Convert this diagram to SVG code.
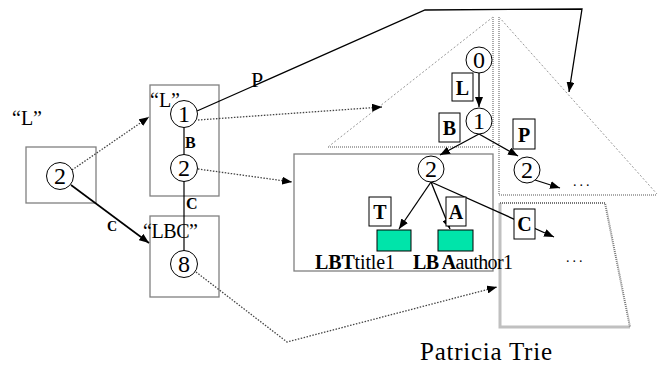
<svg xmlns="http://www.w3.org/2000/svg" width="663" height="365" viewBox="0 0 663 365">
<style>
text{font-family:"Liberation Serif","Times New Roman",serif;fill:#000}
.num{font-size:24px;text-anchor:middle}
.lab{font-size:20px;font-weight:bold;text-anchor:middle}
.q{font-size:20px}
.box{fill:none;stroke:#808080;stroke-width:1.3}
.nd{fill:#fff;stroke:#000;stroke-width:1}
.lbox{fill:#fff;stroke:#000;stroke-width:1}
.leaf{fill:#00e4aa;stroke:#000;stroke-width:1}
.solid{fill:none;stroke:#000;stroke-width:1.3;marker-end:url(#ah)}
.dot{fill:none;stroke:#444;stroke-width:1.3;stroke-dasharray:1.5 1.5;marker-end:url(#ah)}
.tri{fill:none;stroke:#999;stroke-width:1;stroke-dasharray:2 2}
.tri2{fill:none;stroke:#aaa;stroke-width:2;stroke-dasharray:1 1}
.gr{fill:none;stroke:#c0c0c0;stroke-width:3}
.gd{fill:none;stroke:#777;stroke-width:2;stroke-dasharray:1 1}
.ell{font-size:14px;letter-spacing:3px}
</style>
<defs>
<marker id="ah" viewBox="0 0 10 8" refX="10" refY="4" markerWidth="10" markerHeight="8" markerUnits="userSpaceOnUse" orient="auto">
<path d="M0,0 L10,4 L0,8 z" fill="#000"/>
</marker>
</defs>
<rect width="663" height="365" fill="#fff"/>

<g id="trie-outline">
<path class="tri" d="M493,17 L328,147"/>
<path class="tri2" d="M328,147 L493,147 M493,17 L493,147"/>
<path class="tri" d="M499,17 L657,194"/>
<path class="tri2" d="M499,195 L657,195 M499,17 L499,195"/>
<path class="gr" d="M500,203 L500,327 L630,327"/>
<path class="gd" d="M500,203 L605,203 L630,327"/>
<text class="ell" x="566" y="262">...</text>
<text class="ell" x="573" y="186">...</text>
</g>

<g id="left-node">
<text class="q" x="12" y="125">“L”</text>
<rect class="box" x="26" y="147" width="70" height="56"/>
</g>

<g id="mid-top">
<rect class="box" x="150" y="85" width="69" height="111"/>
<text class="q" x="150" y="107">“L”</text>
</g>
<g id="mid-bottom">
<rect class="box" x="150" y="216" width="69" height="81"/>
<text class="q" x="143" y="238" textLength="55">“LBC”</text>
</g>

<g id="big-box">
<rect class="box" x="294" y="154" width="199" height="117"/>
</g>

<g id="connectors">
<path d="M184,127 L184,251" stroke="#000" stroke-width="1.2"/>
<path class="dot" d="M72,170 L149,117"/>
<path class="solid" d="M71,185 L149,243" style="stroke-width:1.6"/>
<path class="solid" d="M197,111 L425,10 L582,9 L569,92"/>
<path class="dot" d="M198,120 L382,107"/>
<path class="dot" d="M198,169 L292,182"/>
<path class="dot" d="M196,272 L287,342 L497,287"/>
<path class="solid" d="M479,73 L479,107"/>
<path class="solid" d="M479,134 L440,155"/>
<path class="solid" d="M479,134 L518,156"/>
<path class="solid" d="M535,180 L560,188"/>
<path class="solid" d="M431,182 L399,229"/>
<path class="solid" d="M431,182 L450,229"/>
<path class="solid" d="M431,182 L554,237"/>
<text x="251" y="87" style="font-size:22px">P</text>
<text x="185" y="148" style="font-size:16px;font-weight:bold">B</text>
<text x="186" y="209" style="font-size:16px;font-weight:bold">C</text>
<text x="107" y="231" style="font-size:14px;font-weight:bold">C</text>
</g>

<g id="n-left2"><circle class="nd" cx="60" cy="176" r="13.5"/><text class="num" x="60" y="184">2</text></g>
<g id="n-mid1"><circle class="nd" cx="184" cy="114" r="13.5"/><text class="num" x="184" y="122">1</text></g>
<g id="n-mid2"><circle class="nd" cx="184" cy="168" r="13.5"/><text class="num" x="184" y="176">2</text></g>
<g id="n-mid8"><circle class="nd" cx="184" cy="264" r="13.5"/><text class="num" x="184" y="272">8</text></g>

<g id="t0"><circle class="nd" cx="479" cy="60" r="13"/><text class="num" x="479" y="68">0</text></g>
<g id="lab-L"><rect class="lbox" x="452" y="73" width="21" height="28"/><text class="lab" x="462.5" y="95">L</text></g>
<g id="t1"><circle class="nd" cx="479" cy="121" r="13"/><text class="num" x="479" y="129">1</text></g>
<g id="lab-B"><rect class="lbox" x="439" y="113" width="21" height="29"/><text class="lab" x="449.5" y="135">B</text></g>
<g id="lab-P"><rect class="lbox" x="513" y="119" width="22" height="30"/><text class="lab" x="524" y="142">P</text></g>
<g id="t2a"><circle class="nd" cx="431" cy="169" r="13"/><text class="num" x="431" y="177">2</text></g>
<g id="t2b"><circle class="nd" cx="527" cy="170" r="13"/><text class="num" x="527" y="178">2</text></g>
<g id="lab-T"><rect class="lbox" x="369" y="197" width="22" height="29"/><text class="lab" x="380" y="219">T</text></g>
<g id="lab-A"><rect class="lbox" x="446" y="197" width="20" height="29"/><text class="lab" x="456" y="219">A</text></g>
<g id="lab-C"><rect class="lbox" x="514" y="209" width="21" height="30"/><text class="lab" x="524.5" y="231">C</text></g>
<g id="leaf1"><rect class="leaf" x="377" y="230" width="34" height="21"/><text x="315" y="269" style="font-size:20px" textLength="80"><tspan font-weight="bold">LBT</tspan>title1</text></g>
<g id="leaf2"><rect class="leaf" x="438" y="230" width="35" height="21"/><text x="413" y="269" style="font-size:20px" textLength="100"><tspan font-weight="bold">LB A</tspan>author1</text></g>

<text x="420" y="360" style="font-size:25px" textLength="132">Patricia Trie</text>
</svg>
